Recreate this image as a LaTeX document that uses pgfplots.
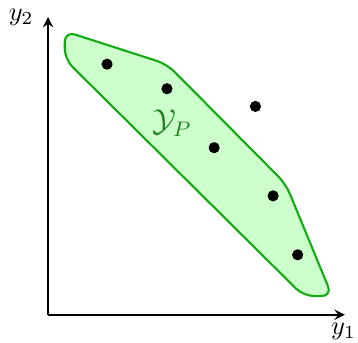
\documentclass[border=0pt]{standalone}
\usepackage{pgfplots}
\pgfplotsset{compat=1.18}
\definecolor{regionfill}{RGB}{204,255,204}
\definecolor{regionedge}{RGB}{20,170,20}
\definecolor{regiontext}{RGB}{30,130,30}
\begin{document}
\begin{tikzpicture}
\begin{axis}[
  x=0.373pt, y=0.373pt,
  xmin=0, xmax=302, ymin=0, ymax=303,
  axis lines=left,
  axis line style={line width=0.75pt},
  ticks=none,
  clip=false,
]
% feasible set in objective space
\addplot[draw=regionedge, fill=regionfill, line width=0.8pt, rounded corners=4pt]
  coordinates {(17,288.5) (121,255) (242,133) (289,19) (260,19) (17,260)} -- cycle;
% image points
\addplot[only marks, mark=*, mark size=1.9pt, black]
  coordinates {(60,255) (121,230) (211,212) (169,170) (229,121) (254,61)};
\node[text=regiontext, font=\large] at (axis cs:126,195) {$\mathcal{Y}_P$};
\node[anchor=east] at (rel axis cs:0,1) [xshift=-2pt] {$y_2$};
\node[anchor=north, inner sep=0.8pt] at (rel axis cs:1,0) [yshift=-2.3pt, xshift=-0.5pt] {$y_1$};
\end{axis}
\end{tikzpicture}
\end{document}
